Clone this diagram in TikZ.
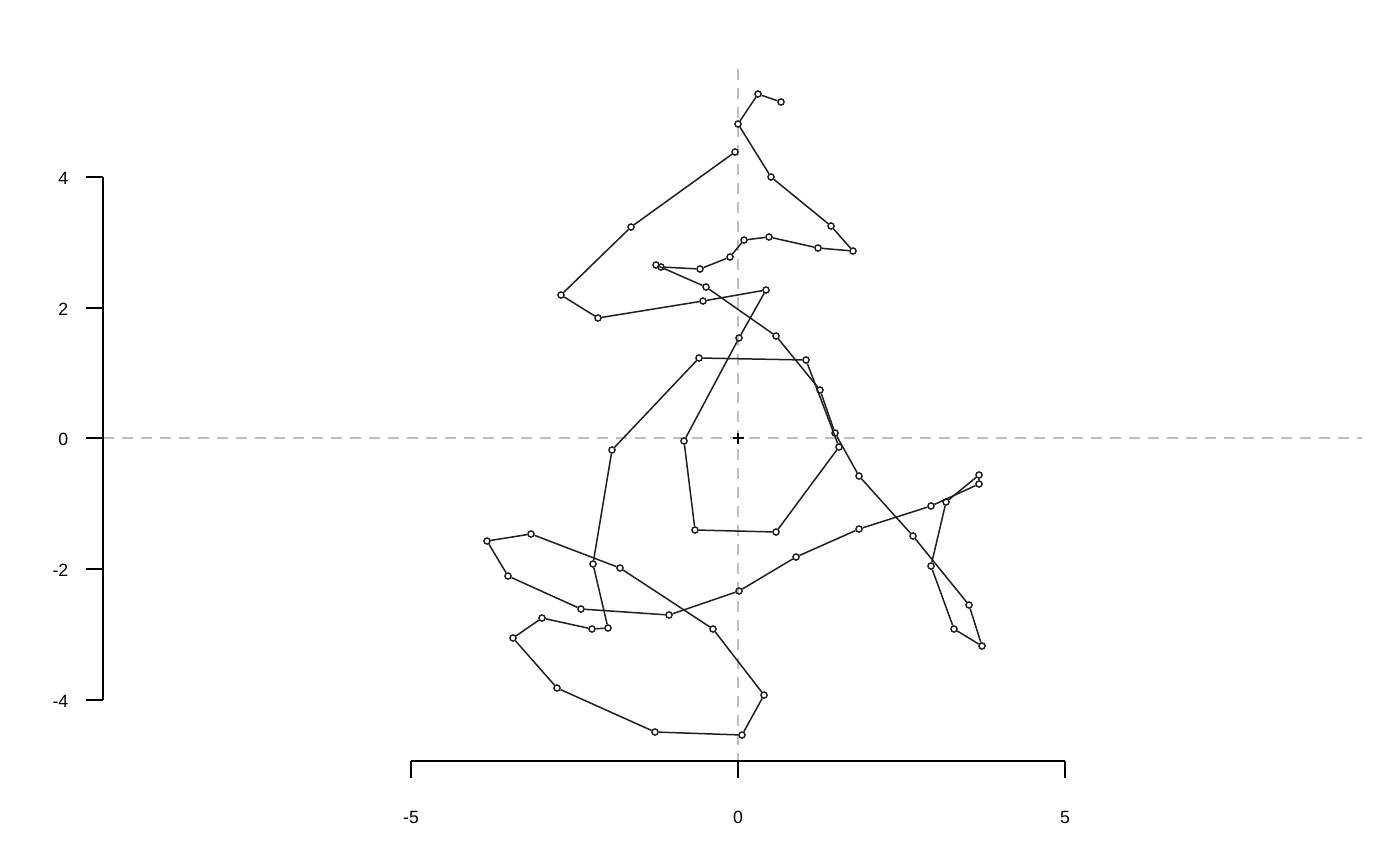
\documentclass[tikz,border=0pt]{standalone}
\usepackage{fontspec}
\setmainfont{Liberation Sans}
\begin{document}
\begin{tikzpicture}[x=1pt,y=-1pt,
  pt/.style={circle,draw=black!88,line width=1.4pt,inner sep=0pt,minimum size=6.2pt},
  walk/.style={draw=black!88,line width=1.5pt},
  axisline/.style={draw=black,line width=1.3pt},
  refline/.style={draw=black!25,line width=1.3pt,dash pattern=on 11pt off 8pt},
  ticklab/.style={font=\fontsize{17.7pt}{20pt}\selectfont,inner sep=0pt}]
\useasboundingbox (0,0) rectangle (1400,865);
% reference lines
\coordinate (hl) at (103,438); \coordinate (hr) at (1362,438);
\coordinate (vt) at (738,69);  \coordinate (vb) at (738,761);
\draw[refline] (hl) -- (hr);
\draw[refline] (vt) -- (vb);
% centre marker
\coordinate (c0) at (738,438);
\draw[black,line width=1.1pt] ([xshift=-5.5pt]c0) -- ([xshift=5.5pt]c0) ([yshift=-5.5pt]c0) -- ([yshift=5.5pt]c0);
% y axis
\coordinate (ya) at (103,177); \coordinate (yb) at (103,700);
\draw[axisline] (ya) -- (yb);
\foreach \v/\yy in {4/177,2/308,0/438,-2/569,-4/700}{
  \coordinate (yt\yy) at (103,\yy);
  \draw[axisline] (yt\yy) -- ++(-17,0);
  \node[ticklab,anchor=east] (yl\yy) at (68.5,\yy+1) {\v};
}
% x axis
\coordinate (xa) at (411,761); \coordinate (xb) at (1065,761);
\draw[axisline] (xa) -- (xb);
\foreach \v/\xx in {-5/411,0/738,5/1065}{
  \coordinate (xt\xx) at (\xx,761);
  \draw[axisline] (xt\xx) -- ++(0,17);
  \node[ticklab] (xl\xx) at (\xx,817.5) {\v};
}
% points
\foreach \n/\x/\y in {
 1/781/102, 2/758/94, 3/738/124, 4/771/177, 5/831/226, 6/853/251, 7/818/248, 8/769/237,
 9/744/240, 10/730/257, 11/700/269, 12/661/267, 13/656/265, 14/706/287, 15/776/336,
 16/820/390, 17/835/433, 18/859/476, 19/913/536, 20/969/605, 21/982/646, 22/954/629,
 23/931/566, 24/946/502, 25/979/475, 26/979/484, 27/931/506, 28/859/529, 29/796/557,
 30/739/591, 31/669/615, 32/581/609, 33/508/576, 34/487/541, 35/531/534, 36/620/568,
 37/713/629, 38/764/695, 39/742/735, 40/655/732, 41/557/688, 42/513/638, 43/542/618,
 44/592/629, 45/608/628, 46/593/564, 47/612/450, 48/699/358, 49/806/360, 50/839/447,
 51/776/532, 52/695/530, 53/684/441, 54/739/338, 55/766/290, 56/703/301, 57/598/318,
 58/561/295, 59/631/227, 60/735/152}
  \node[pt] (p\n) at (\x,\y) {};
\foreach \i [evaluate=\i as \j using {int(\i+1)}] in {1,...,59}
  \draw[walk] (p\i) -- (p\j);
\end{tikzpicture}
\end{document}
